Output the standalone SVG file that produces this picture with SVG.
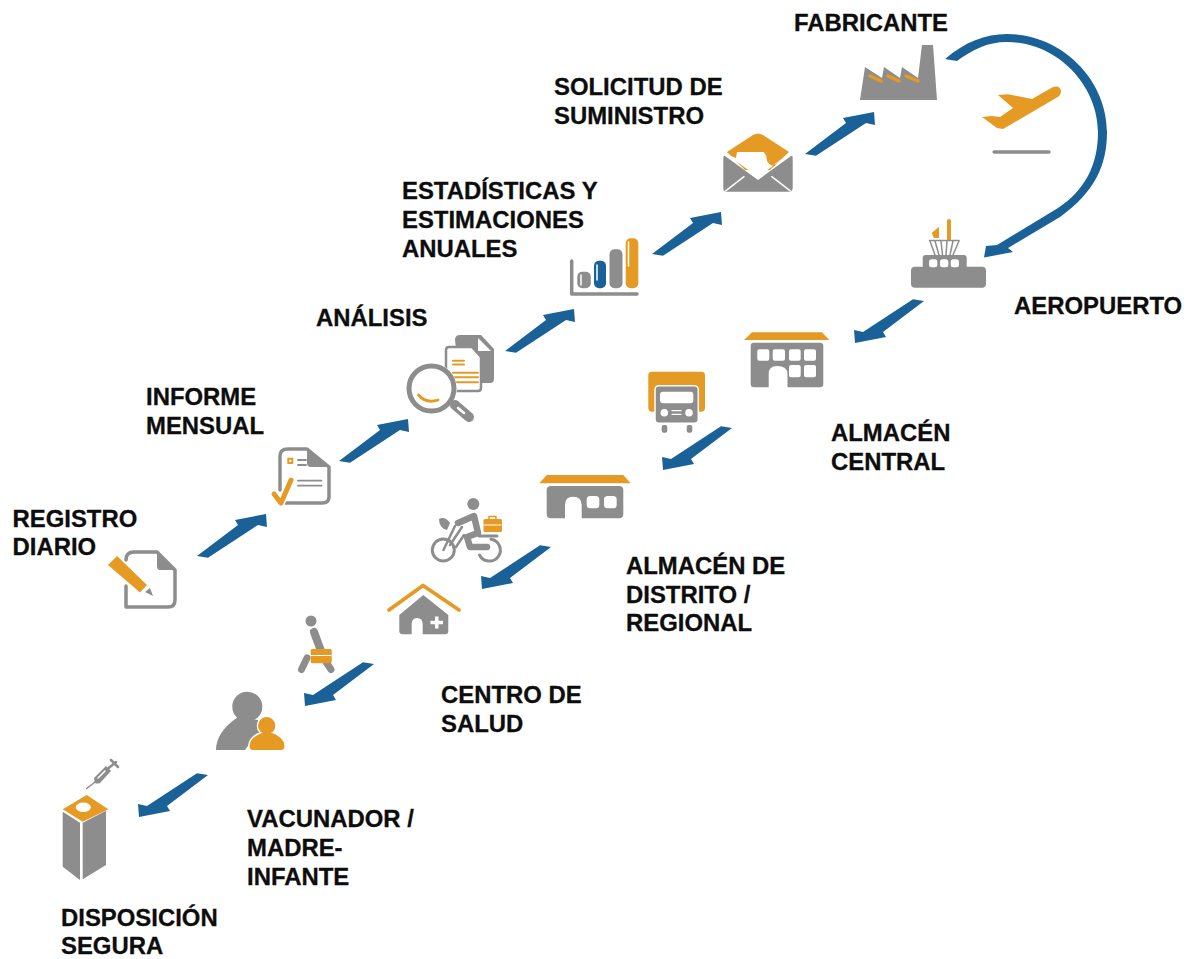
<svg xmlns="http://www.w3.org/2000/svg" width="1190" height="959" viewBox="0 0 1190 959">
<style>
text{font-family:"Liberation Sans",Arial,sans-serif;font-weight:700;font-size:23.9px;fill:#0d0d0d;stroke:#0d0d0d;stroke-width:.3px}
.g{fill:#8e8d8e}.o{fill:#e59a24}.b{fill:#1a6197}.w{fill:#fff}
.gs{fill:none;stroke:#8e8d8e;stroke-linecap:round;stroke-linejoin:round}
.os{fill:none;stroke:#e59a24;stroke-linecap:round;stroke-linejoin:round}
.ws{fill:none;stroke:#fff;stroke-linecap:round;stroke-linejoin:round}
</style>
<defs>
<path id="arrow" class="b" d="M0 0L41-31L38-36L69-42L70-29L61-31L11 1.700Z"/>
</defs>
<rect width="1190" height="959" fill="#fff"/>
<g id="connectors">
<use href="#arrow" transform="translate(197 556)"/>
<use href="#arrow" transform="translate(339 461)"/>
<use href="#arrow" transform="translate(505 351)"/>
<use href="#arrow" transform="translate(652 254)"/>
<use href="#arrow" transform="translate(805 154)"/>
<path class="b" d="M945 59C965 42 985 34 1007 34C1062 34 1107 80 1107 132C1107 165 1095 192 1060 217L1008 248L1013 252L984 257.500L986 246L997 245L1058 208C1085 190 1098 165 1098 132C1098 86 1058 42 1007 42C987 42 972 50 957 61Z"/>
<use href="#arrow" transform="translate(924 301) rotate(180)"/>
<use href="#arrow" transform="translate(732 428) rotate(180)"/>
<use href="#arrow" transform="translate(551 547) rotate(180)"/>
<use href="#arrow" transform="translate(374 664) rotate(180)"/>
<use href="#arrow" transform="translate(208 775) rotate(180)"/>
</g>
<g id="registro-diario">
<path class="gs" stroke-width="3.500" d="M126 560Q126 552 134 552H157L175 570V600Q175 607 168 607H126V586"/>
<path class="g" d="M157 552L175 570H160Q157 570 157 566Z"/>
<path class="o" d="M108 565L117 556L147 585L140 592.500Z"/>
<path class="g" d="M145 592L150 588L153 596Z"/>
<text x="12.500" y="527">REGISTRO</text><text x="12.500" y="554.500">DIARIO</text>
</g>
<g id="informe-mensual">
<path class="gs" stroke-width="3.500" d="M280 490V456Q280 449 288 449H307L329 467V497Q329 503 322 503H285"/>
<path class="g" d="M307 449L329 467H311Q307 467 307 463Z"/>
<rect class="o" x="287.300" y="457.700" width="6" height="6.300"/>
<rect class="w" x="289.300" y="459.700" width="2" height="2.300"/>
<path class="gs" stroke-width="1.800" d="M298 460H306M298 465H306M298 480.700H321.500M298 485.700H321.500"/>
<path class="ws" stroke-width="8" d="M274 494L281 503L291 480"/>
<path class="os" stroke-width="5" d="M274 494L281 503L291 480"/>
<text x="146" y="405">INFORME</text><text x="146" y="434">MENSUAL</text>
</g>
<g id="analisis">
<path class="g" d="M455 340Q455 335 460 335H481L494 349V379Q494 383 490 383H460Z"/>
<path class="w" d="M478 338L491 351H478Z"/>
<path d="M446 350Q446 347 449 347H472L481 357V388Q481 391 478 391H449Q446 391 446 388Z" fill="#fff" stroke="#8e8d8e" stroke-width="2.500"/>
<path class="os" stroke-width="2" d="M453 360.700H464M453 364.500H464M453 372.700H478M453 377.300H478M453 382.300H478"/>
<circle cx="431.500" cy="388.500" r="25.500" fill="#fff"/>
<circle cx="431.500" cy="388.500" r="22.500" fill="#fff" stroke="#8e8d8e" stroke-width="5"/>
<path class="os" stroke-width="2.800" d="M418.500 395Q426 404 438 400"/>
<path class="gs" stroke-width="10" d="M455 405L469 417"/>
<path class="ws" stroke-width="2.500" d="M458 408L464 413"/>
<text x="316" y="326">ANÁLISIS</text>
</g>
<g id="estadisticas">
<path class="gs" stroke-width="3.500" d="M571.700 261V294H637"/>
<rect class="g" x="577.300" y="271.700" width="13.500" height="16.600" rx="5"/>
<rect class="b" x="594" y="260.700" width="12" height="27.600" rx="5"/>
<rect class="g" x="609.500" y="249.300" width="13" height="39" rx="5"/>
<rect class="o" x="625.700" y="238.300" width="12.600" height="50" rx="5"/>
<path class="ws" stroke-width="1.500" d="M581 275V285M597 265V280M628.500 242V266"/>
<text x="402" y="199">ESTADÍSTICAS Y</text><text x="402" y="227.500">ESTIMACIONES</text><text x="402" y="257">ANUALES</text>
</g>
<g id="solicitud">
<path class="o" d="M727 152L753 135Q758 132 763 135L789 152L770 170H745Z"/>
<path class="w" d="M736 158L737 152H766.700L770 163L773 165L789 154L758 177L726 154Z"/>
<path class="os" stroke-width="2.200" d="M765 152Q768 155 768 160Q769 164 774 165"/>
<path class="g" d="M723.300 158Q723.300 155 725 156L758 180L791 156Q792.700 155 792.700 158V188Q792.700 191.700 789 191.700H727Q723.300 191.700 723.300 188Z"/>
<path class="ws" stroke-width="1.500" d="M726 190.700L744 176.700M790 190.700L771.700 176.700"/>
<text x="554" y="95">SOLICITUD DE</text><text x="554" y="124">SUMINISTRO</text>
</g>
<g id="fabricante">
<path class="g" d="M860 100L865 67L882 78L884 67L900 78L902 67L918 78L922 45H933L937 100Z"/>
<path class="os" stroke-width="3.500" d="M870 76L881 81M888 76L899 81M906 76L918 81"/>
<text x="794" y="31">FABRICANTE</text>
</g>
<g id="avion">
<path class="o" d="M982 117L992 116L1000 117L1013 108L998 95L1008 94.300L1032 99L1053 87Q1060 85 1061 91Q1061 96 1056 98L1003 129L997 128Z"/>
<path class="gs" stroke-width="3.300" d="M994 152H1049"/>
</g>
<g id="aeropuerto">
<path class="os" stroke-width="4" d="M949 221V239"/>
<path class="o" d="M931.700 233L939 226.700V238H934Z"/>
<path class="gs" stroke-width="1.500" d="M929.500 240.500H959M930 241L935 255M935 241L939 255M941 241L942.500 255M947 241L946 255M953 241L950 255M959 241L953 255"/>
<rect class="g" x="922.700" y="255" width="44" height="14" rx="3"/>
<rect class="g" x="911" y="266.700" width="75" height="21" rx="4"/>
<rect class="w" x="929" y="259.300" width="8.300" height="8" rx="2.500"/>
<rect class="w" x="940" y="259.300" width="8.300" height="8" rx="2.500"/>
<rect class="w" x="950.700" y="259.300" width="8.300" height="8" rx="2.500"/>
<text x="1014" y="314">AEROPUERTO</text>
</g>
<g id="almacen-central">
<path class="o" d="M744 340L752 332.300H822L829.300 340Z"/>
<path class="g" d="M750.700 346Q750.700 342.700 754 342.700H820Q823.300 342.700 823.300 346V384Q823.300 387.300 820 387.300H787.500V374Q787.500 366 777 366Q768.700 366 768.700 374V387.300H754Q750.700 387.300 750.700 384Z"/>
<path class="w" d="M757.300 351.300a2 2 0 0 1 2-2h8a2 2 0 0 1 2 2v7.400a2 2 0 0 1-2 2h-8a2 2 0 0 1-2-2zM772.700 351.300a2 2 0 0 1 2-2h8.300a2 2 0 0 1 2 2v7.400a2 2 0 0 1-2 2h-8.300a2 2 0 0 1-2-2zM789 351.300a2 2 0 0 1 2-2h7.700a2 2 0 0 1 2 2v7.400a2 2 0 0 1-2 2h-7.700a2 2 0 0 1-2-2zM804 351.300a2 2 0 0 1 2-2h8a2 2 0 0 1 2 2v7.400a2 2 0 0 1-2 2h-8a2 2 0 0 1-2-2zM789 367a2 2 0 0 1 2-2h7.700a2 2 0 0 1 2 2v8.300a2 2 0 0 1-2 2h-7.700a2 2 0 0 1-2-2zM804 367a2 2 0 0 1 2-2h8a2 2 0 0 1 2 2v8.300a2 2 0 0 1-2 2h-8a2 2 0 0 1-2-2z"/>
<text x="831" y="441">ALMACÉN</text><text x="831" y="470">CENTRAL</text>
</g>
<g id="camion">
<path class="o" d="M648.300 375Q648.300 371.700 652 371.700H701Q705 371.700 705 375V408Q705 411.700 701 411.700H652Q648.300 411.700 648.300 408Z"/>
<rect x="655" y="385.700" width="43.300" height="37.600" rx="4" class="g" stroke="#fff" stroke-width="1.500"/>
<rect class="w" x="660" y="391.700" width="33.300" height="11.600" rx="3"/>
<circle class="w" cx="664.300" cy="412.700" r="3.800"/>
<circle class="w" cx="689" cy="412.700" r="3.800"/>
<path class="ws" stroke-width="1.300" d="M672 410.700H681M672 414.300H681"/>
<rect class="g" x="661.700" y="425" width="5.600" height="7.700" rx="2"/>
<rect class="g" x="686.700" y="425" width="5.600" height="7.700" rx="2"/>
</g>
<g id="almacen-distrito">
<path class="o" d="M539.300 483.300L546.700 475H623.300L630.700 483.300Z"/>
<path class="g" d="M546.700 490Q546.700 486 551 486H619Q623.300 486 623.300 490V514Q623.300 518.300 619 518.300H581.700V505Q581.700 496.700 573 496.700Q565 496.700 565 505V518.300H551Q546.700 518.300 546.700 514Z"/>
<rect class="w" x="586.700" y="496" width="12.600" height="12.300" rx="3.500"/>
<rect class="w" x="604" y="496" width="12.700" height="12.300" rx="3.500"/>
<text x="626" y="574">ALMACÉN DE</text><text x="626" y="603">DISTRITO /</text><text x="626" y="631">REGIONAL</text>
</g>
<g id="moto">
<circle cx="443.300" cy="550" r="11" fill="none" stroke="#8e8d8e" stroke-width="3"/>
<path class="gs" stroke-width="3" d="M491 539.200A11 11 0 1 1 479.500 555"/>
<path class="gs" stroke-width="2.500" d="M443.500 550L455 526M450 545L462 527M456 547L464 535"/>
<path class="g" d="M439 519Q445 516 450 523L447 530Q439 528 439 519Z"/>
<circle class="g" cx="473.300" cy="504" r="6"/>
<path class="gs" stroke-width="6.500" d="M458 523L474 516L478 533L467 537L470 547H487"/>
<path class="gs" stroke-width="3" d="M479 536H497"/>
<rect class="o" x="483.500" y="519" width="18.500" height="13" rx="1.500"/>
<path class="os" stroke-width="1.500" d="M489 519V516.500H496V519"/>
<path class="ws" stroke-width="1" d="M484 525H501"/>
</g>
<g id="centro-salud">
<path class="os" stroke-width="3.800" d="M389 610L423 585.500L459 610"/>
<path class="g" d="M399.300 615L423.300 595L448.300 615V631Q448.300 634.300 445 634.300H422.700V624Q422.700 618 417 618Q411.700 618 411.700 624V634.300H403Q399.300 634.300 399.300 631Z"/>
<path class="w" d="M435 616.500H438.500V620.800H443V624.300H438.500V628.500H435V624.300H430.500V620.800H435Z"/>
<text x="441" y="703">CENTRO DE</text><text x="441" y="732">SALUD</text>
</g>
<g id="caminante">
<circle class="g" cx="311" cy="621" r="5.500"/>
<path class="gs" stroke-width="8" d="M314 632L321 651"/>
<path class="gs" stroke-width="7" d="M307 658L301.500 669.500M326 662L331 669.500"/>
<rect class="o" x="310.700" y="649" width="21" height="14.300" rx="1.500"/>
<path class="ws" stroke-width="1" d="M311 655.500H331"/>
</g>
<g id="vacunador">
<path class="g" d="M216 750Q216 732 238 717L258 720L262 735Q250 742 245 750Z"/>
<circle class="g" cx="247.300" cy="706.700" r="15"/>
<circle class="o" cx="266.700" cy="725.700" r="8.500" stroke="#fff" stroke-width="3" paint-order="stroke"/>
<path class="o" d="M249.500 746Q250 737 262 733H272Q284 737 284.500 746Q284.500 750 281 750H253Q249.500 750 249.500 746Z" stroke="#fff" stroke-width="3" paint-order="stroke"/>
<circle class="o" cx="266.700" cy="725.700" r="8.500"/>
<text x="247" y="827">VACUNADOR /</text><text x="247" y="856">MADRE-</text><text x="247" y="885">INFANTE</text>
</g>
<g id="disposicion">
<path class="gs" stroke-width="1.500" d="M86.700 788.500L95 782"/>
<path class="g" d="M94 778L106 766L111 771L100 783Q97 784 95 783Z"/>
<path class="gs" stroke-width="2.500" d="M105 771L116 762M111 760L118 767"/>
<path class="ws" stroke-width="1.500" d="M98 778L105 771"/>
<path class="o" d="M62.700 809.300L86.700 795L108.300 809.300L82.700 821.700Z"/>
<ellipse class="w" cx="83.300" cy="807.300" rx="7.500" ry="4.800"/>
<path class="g" d="M62.700 811.700L80 822.700V880L62.700 866.700Z"/>
<path class="g" d="M82.700 822.700L106 810.700V865L82.700 879.300Z"/>
<text x="61" y="926">DISPOSICIÓN</text><text x="61" y="953.500">SEGURA</text>
</g>
</svg>
